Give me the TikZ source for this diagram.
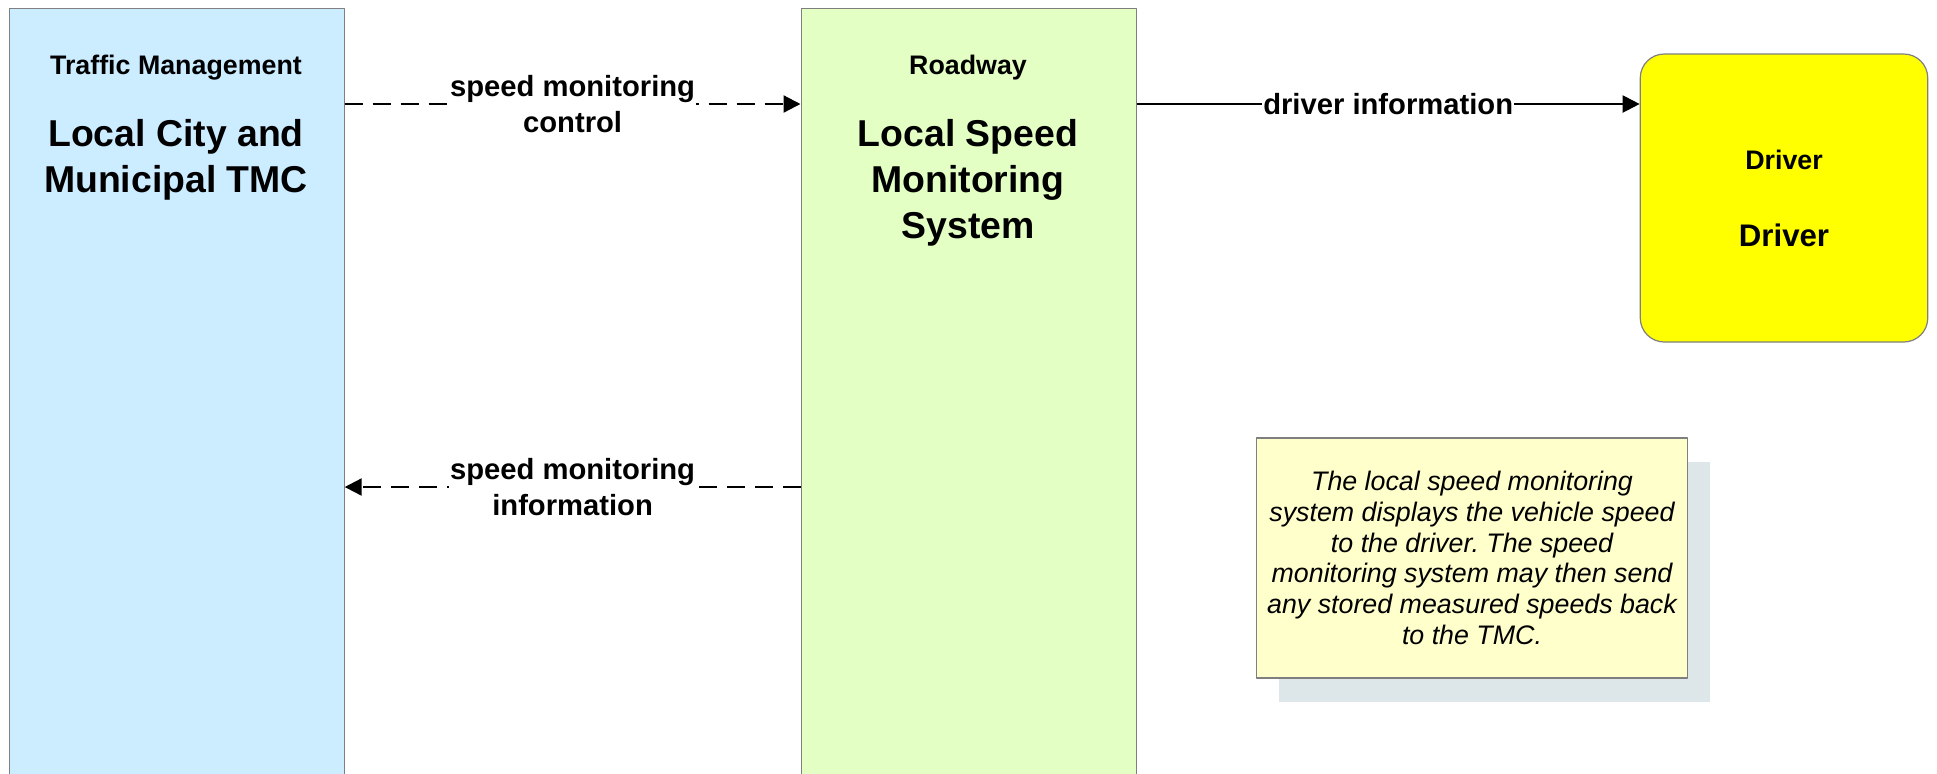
\documentclass[tikz,border=0pt]{standalone}
\usepackage{fontspec}
\setmainfont{Liberation Sans}
\usetikzlibrary{arrows.meta,shadows}
\definecolor{tmcblue}{HTML}{CCECFF}
\definecolor{roadgreen}{HTML}{E3FFC4}
\definecolor{driveryellow}{HTML}{FFFF00}
\definecolor{noteyellow}{HTML}{FFFFCC}
\definecolor{noteshade}{HTML}{DDE6E8}
\definecolor{edgegray}{HTML}{7F7F7F}
\frenchspacing
\tikzset{
  entity/.style={draw=edgegray,line width=0.6pt,anchor=north west,
    minimum width=167.5pt,minimum height=450pt,inner sep=0pt},
  cattext/.style={font=\bfseries\fontsize{13.4}{16}\selectfont},
  nametext/.style={font=\bfseries\fontsize{18.7}{22.9}\selectfont,align=center},
  flow/.style={line width=1.1pt,-{Triangle[length=8.5pt,width=8.5pt]}},
  flowdash/.style={flow,dash pattern=on 9pt off 5pt},
  flowlabel/.style={font=\bfseries\fontsize{14.6}{17.9}\selectfont,align=center,
    fill=white,inner sep=0.5pt},
}
\begin{document}
\begin{tikzpicture}[x=0.5pt,y=-0.5pt,line join=round]
  \clip (0,0) rectangle (1937,773);
  \node[entity,fill=tmcblue] (tmc) at (8.5,7.5) {};
  \node[entity,fill=roadgreen] (lsms) at (800.5,7.5) {};
  \node[draw=edgegray,line width=0.6pt,fill=driveryellow,rounded corners=12pt,
    minimum width=143.75pt,minimum height=144pt] (driver) at (1784,198) {};
  \node[cattext] (tmccat) at (176,68) {Traffic Management};
  \node[nametext] (tmcname) at (176,160) {Local City and\\Municipal TMC};
  \node[cattext] (lsmscat) at (968,68) {Roadway};
  \node[nametext] (lsmsname) at (968,183) {Local Speed\\Monitoring\\System};
  \node[cattext] (drivercat) at (1784,160) {Driver};
  \node[font=\bfseries\fontsize{15.6}{18}\selectfont] (drivername) at (1784,235) {Driver};
  \node[draw=edgegray,line width=0.6pt,fill=noteyellow,minimum width=215.5pt,
    minimum height=120pt,align=center,font=\itshape\fontsize{13.4}{15.4}\selectfont,
    drop shadow={shadow xshift=11pt,shadow yshift=-12pt,fill=noteshade,opacity=1}]
    (note) at (1472,558) {The local speed monitoring\\system displays the vehicle speed\\
    to the driver. The speed\\monitoring system may then send\\
    any stored measured speeds back\\to the TMC.};
  \coordinate (ctlrow) at (0,104);
  \coordinate (inforow) at (0,487);
  \draw[flowdash] (tmc.east |- ctlrow) -- node[flowlabel] (ctllabel)
    {speed monitoring\\control} (lsms.west |- ctlrow);
  \draw[flow] (lsms.east |- ctlrow) -- node[flowlabel] (drvlabel)
    {driver information} (driver.west |- ctlrow);
  \draw[flowdash] (lsms.west |- inforow) -- node[flowlabel] (infolabel)
    {speed monitoring\\information} (tmc.east |- inforow);
\end{tikzpicture}
\end{document}
